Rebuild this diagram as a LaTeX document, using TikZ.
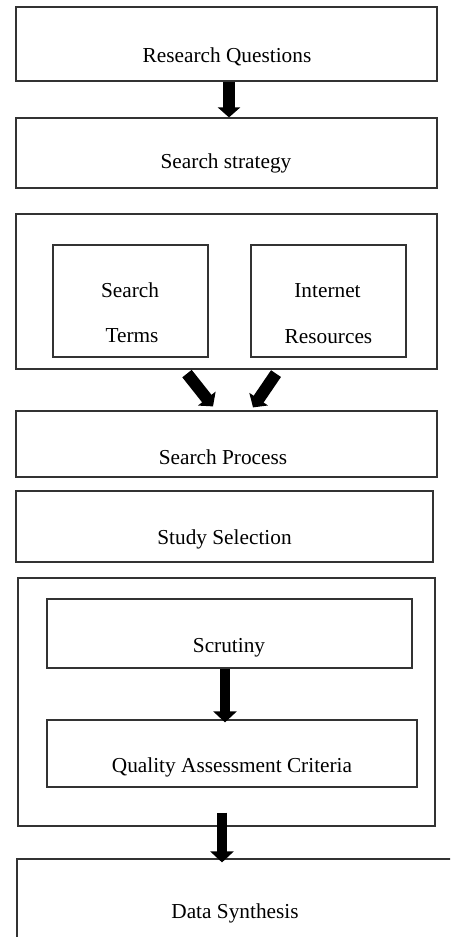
\documentclass[tikz,border=0pt]{standalone}
\usepackage{fontspec}
\setmainfont{Liberation Serif}
\usetikzlibrary{arrows.meta}
\begin{document}
\begin{tikzpicture}[x=1pt,y=-1pt,
  box/.style={draw=black!80, line width=1.2pt, rectangle, inner sep=0pt},
  lbl/.style={anchor=base, inner sep=0pt, font=\fontsize{21.3}{25}\selectfont},
  barrow/.style={line width=12pt, -{Triangle[width=22pt,length=10pt]}},
  narrow/.style={line width=10pt, -{Triangle[width=23pt,length=11pt]}}]
\clip (0,0) rectangle (450,937);
\fill[white] (0,0) rectangle (450,937);
% boxes
\node[box, minimum width=421pt, minimum height=74pt] (rq) at (226.5,44) {};
\node[box, minimum width=421pt, minimum height=70pt] (ss) at (226.5,153) {};
\node[box, minimum width=421pt, minimum height=155pt] (grp) at (226.5,291.5) {};
\node[box, minimum width=155pt, minimum height=112pt] (st) at (130.5,301) {};
\node[box, minimum width=155pt, minimum height=112pt] (ir) at (328.5,301) {};
\node[box, minimum width=421pt, minimum height=66pt] (sp) at (226.5,444) {};
\node[box, minimum width=417pt, minimum height=71pt] (sel) at (224.5,526.5) {};
\node[box, minimum width=417pt, minimum height=248pt] (grp2) at (226.5,702) {};
\node[box, minimum width=365pt, minimum height=69pt] (scr) at (229.5,633.5) {};
\node[box, minimum width=370pt, minimum height=67pt] (qac) at (232,753.5) {};
\node[box, minimum width=443pt, minimum height=91pt] (ds) at (238.5,904.5) {};
% labels
\node[lbl] (trq) at (227,62) {Research Questions};
\node[lbl] (tss) at (226,168) {Search strategy};
\node[lbl] (ts1) at (130,297) {Search};
\node[lbl] (ts2) at (132,342) {Terms};
\node[lbl] (ti1) at (327.5,297) {Internet};
\node[lbl] (ti2) at (328.5,343) {Resources};
\node[lbl] (tsp) at (223,464) {Search Process};
\node[lbl] (tsel) at (224.5,544) {Study Selection};
\node[lbl] (tscr) at (229,652) {Scrutiny};
\node[lbl] (tqac) at (232,772) {Quality Assessment Criteria};
\node[lbl] (tds) at (235,918) {Data Synthesis};
% arrows
\draw[barrow] ([xshift=2.5pt]rq.south) -- ([xshift=2.5pt]ss.north);
\draw[barrow] ([shift={(-39.5,4)}]grp.south) -- ([shift={(-13.5,-4)}]sp.north);
\draw[barrow] ([shift={(49.5,4)}]grp.south) -- ([shift={(26.5,-3)}]sp.north);
\draw[narrow] ([xshift=-4.5pt]scr.south) -- ([shift={(-7,3)}]qac.north);
\draw[narrow] ([shift={(-4.5,-14)}]grp2.south) -- ([shift={(-16.5,4)}]ds.north);
\end{tikzpicture}
\end{document}
